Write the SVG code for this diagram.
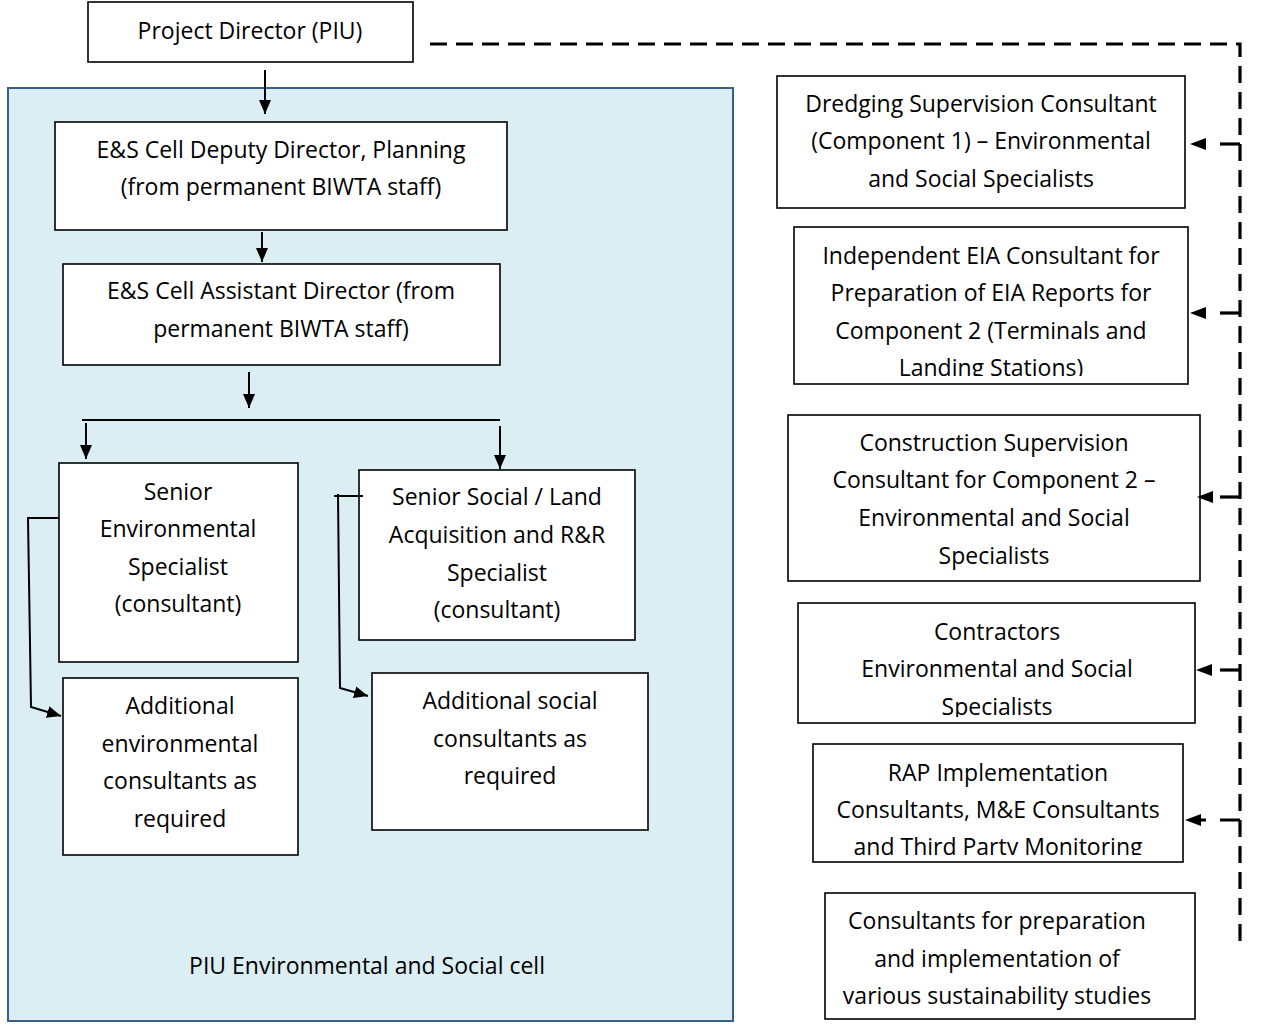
<svg xmlns="http://www.w3.org/2000/svg" width="1263" height="1024" viewBox="0 0 1263 1024">
<style>
  .box { fill: #ffffff; stroke: #000000; stroke-width: 1.6; }
  .cell { fill: #DAEEF3; stroke: #3A5F8A; stroke-width: 2; }
  text { font-family: "Open Sans", Lato, "Liberation Sans", sans-serif; font-size: 23px; fill: #000000; text-anchor: middle; }
  .conn { fill: none; stroke: #000000; stroke-width: 2; }
  .dash { fill: none; stroke: #000000; stroke-width: 3.2; stroke-dasharray: 17 9; }
  .dashs { fill: none; stroke: #000000; stroke-width: 3.2; stroke-dasharray: 20 14; }
</style>
<defs>
  <marker id="arr" viewBox="0 0 14 12" refX="14" refY="6" markerWidth="14" markerHeight="12" markerUnits="userSpaceOnUse" orient="auto">
    <path d="M0,0 L14,6 L0,12 z" fill="#000"/>
  </marker>
  <marker id="darr" viewBox="0 0 16 12" refX="0" refY="6" markerWidth="16" markerHeight="12" markerUnits="userSpaceOnUse" orient="auto">
    <path d="M0,0 L16,6 L0,12 z" fill="#000"/>
  </marker>
  <clipPath id="clipEIA"><rect x="794" y="227" width="394" height="149"/></clipPath>
  <clipPath id="clipCon"><rect x="798" y="603" width="397" height="114"/></clipPath>
  <clipPath id="clipRAP"><rect x="813" y="744" width="370" height="111"/></clipPath>
</defs>

<g id="piu-cell">
  <rect class="cell" x="8" y="88" width="725" height="933"/>
  <text x="367" y="974">PIU Environmental and Social cell</text>
</g>

<g id="project-director">
  <rect class="box" x="88" y="2" width="325" height="60"/>
  <text x="250" y="39">Project Director (PIU)</text>
</g>

<g id="deputy-director">
  <rect class="box" x="55" y="122" width="452" height="108"/>
  <text x="281" y="158">E&amp;S Cell Deputy Director, Planning</text>
  <text x="281" y="195">(from permanent BIWTA staff)</text>
</g>

<g id="assistant-director">
  <rect class="box" x="63" y="264" width="437" height="101"/>
  <text x="281" y="299">E&amp;S Cell Assistant Director (from</text>
  <text x="281" y="337">permanent BIWTA staff)</text>
</g>

<g id="senior-env">
  <rect class="box" x="59" y="463" width="239" height="199"/>
  <text x="178" y="500">Senior</text>
  <text x="178" y="537">Environmental</text>
  <text x="178" y="575">Specialist</text>
  <text x="178" y="612">(consultant)</text>
</g>

<g id="senior-social">
  <rect class="box" x="359" y="470" width="276" height="170"/>
  <text x="497" y="505">Senior Social / Land</text>
  <text x="497" y="543">Acquisition and R&amp;R</text>
  <text x="497" y="581">Specialist</text>
  <text x="497" y="618">(consultant)</text>
</g>

<g id="additional-env">
  <rect class="box" x="63" y="678" width="235" height="177"/>
  <text x="180" y="714">Additional</text>
  <text x="180" y="752">environmental</text>
  <text x="180" y="789">consultants as</text>
  <text x="180" y="827">required</text>
</g>

<g id="additional-social">
  <rect class="box" x="372" y="673" width="276" height="157"/>
  <text x="510" y="709">Additional social</text>
  <text x="510" y="747">consultants as</text>
  <text x="510" y="784">required</text>
</g>

<g id="dredging">
  <rect class="box" x="777" y="76" width="408" height="132"/>
  <text x="981" y="112">Dredging Supervision Consultant</text>
  <text x="981" y="149">(Component 1) – Environmental</text>
  <text x="981" y="187">and Social Specialists</text>
</g>

<g id="eia">
  <rect class="box" x="794" y="227" width="394" height="157"/>
  <g clip-path="url(#clipEIA)">
    <text x="991" y="264">Independent EIA Consultant for</text>
    <text x="991" y="301">Preparation of EIA Reports for</text>
    <text x="991" y="339">Component 2 (Terminals and</text>
    <text x="991" y="376">Landing Stations)</text>
  </g>
</g>

<g id="construction">
  <rect class="box" x="788" y="415" width="412" height="166"/>
  <text x="994" y="451">Construction Supervision</text>
  <text x="994" y="488">Consultant for  Component 2 –</text>
  <text x="994" y="526">Environmental and Social</text>
  <text x="994" y="564">Specialists</text>
</g>

<g id="contractors">
  <rect class="box" x="798" y="603" width="397" height="120"/>
  <g clip-path="url(#clipCon)">
    <text x="997" y="640">Contractors</text>
    <text x="997" y="677">Environmental and Social</text>
    <text x="997" y="715">Specialists</text>
  </g>
</g>

<g id="rap">
  <rect class="box" x="813" y="744" width="370" height="118"/>
  <g clip-path="url(#clipRAP)">
    <text x="998" y="781">RAP Implementation</text>
    <text x="998" y="818">Consultants, M&amp;E Consultants</text>
    <text x="998" y="855">and Third Party Monitoring</text>
  </g>
</g>

<g id="sustainability">
  <rect class="box" x="825" y="893" width="370" height="126"/>
  <text x="997" y="929">Consultants for preparation</text>
  <text x="997" y="967">and implementation of</text>
  <text x="997" y="1004">various sustainability studies</text>
</g>

<g id="connectors">
  <line class="conn" x1="265" y1="70" x2="265" y2="114" marker-end="url(#arr)"/>
  <line class="conn" x1="262" y1="232" x2="262" y2="262" marker-end="url(#arr)"/>
  <line class="conn" x1="249" y1="372" x2="249" y2="408" marker-end="url(#arr)"/>
  <line class="conn" x1="82" y1="420" x2="500" y2="420"/>
  <line class="conn" x1="86" y1="423" x2="86" y2="459" marker-end="url(#arr)"/>
  <line class="conn" x1="500" y1="426" x2="500" y2="469" marker-end="url(#arr)"/>
  <path class="conn" d="M59,518 H28 L31,707 L61,716" marker-end="url(#arr)"/>
  <line class="conn" x1="334" y1="496" x2="363" y2="496"/>
  <path class="conn" d="M338,494 L340,688 L368,696" marker-end="url(#arr)"/>

  <path class="dash" d="M430,44 H1240 V945"/>
  <line class="dashs" x1="1240" y1="144" x2="1206" y2="144" marker-end="url(#darr)"/>
  <line class="dashs" x1="1240" y1="313" x2="1206" y2="313" marker-end="url(#darr)"/>
  <line class="dashs" x1="1240" y1="497" x2="1213" y2="497" marker-end="url(#darr)"/>
  <line class="dashs" x1="1240" y1="670" x2="1212" y2="670" marker-end="url(#darr)"/>
  <line class="dashs" x1="1240" y1="820" x2="1201" y2="820" marker-end="url(#darr)"/>
</g>
</svg>
